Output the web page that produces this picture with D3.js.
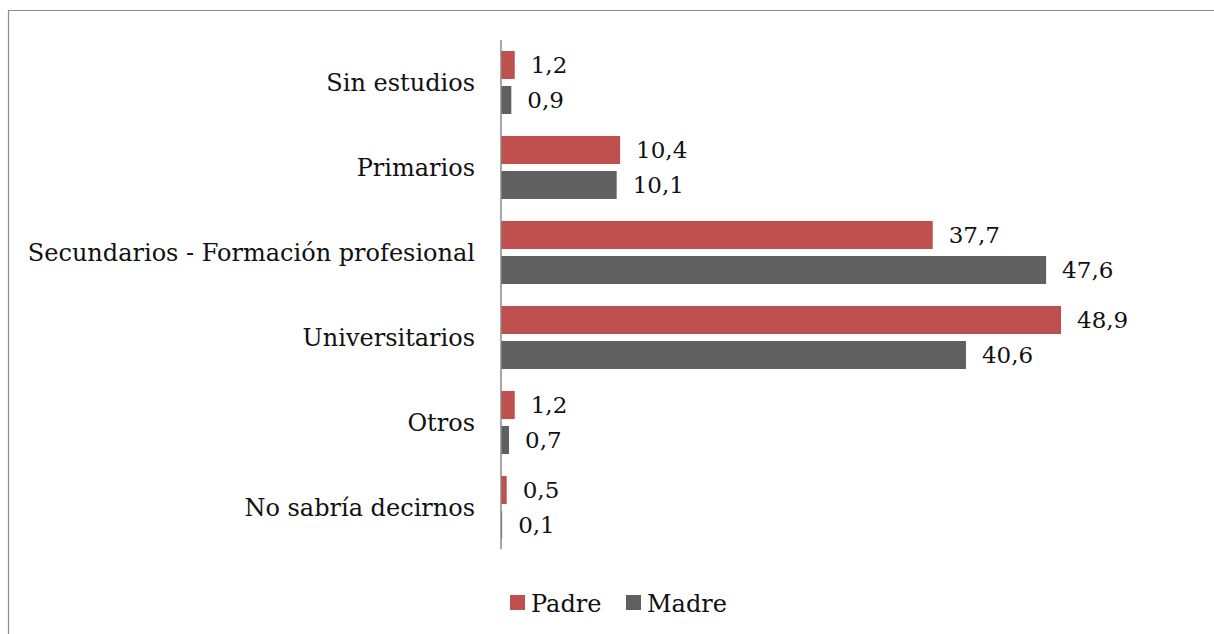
<!DOCTYPE html>
<html>
<head>
<meta charset="utf-8">
<script src="https://cdn.jsdelivr.net/npm/d3@7"></script>
<style>
	body { margin: 0; background: #fff; }
	text { font-family: "DejaVu Serif", "Liberation Serif", serif; fill: #111; }
</style>
</head>
<body>
<div id="chart"></div>
<script>
"use strict"

// data
const categories = ["Sin estudios", "Primarios", "Secundarios - Formación profesional", "Universitarios", "Otros", "No sabría decirnos"];
const seriesNames = ["Padre", "Madre"];
const padre = [1.2, 10.4, 37.7, 48.9, 1.2, 0.5];
const madre = [0.9, 10.1, 47.6, 40.6, 0.7, 0.1];
const colors = ["#C0504D", "#606060"];

const width = 1214, height = 634;
const values = [padre, madre];

let svg = d3.select("#chart").append("svg")
	.attr("width", width)
	.attr("height", height);

// frame
svg.append("path")
	.attr("d", `M8.5,${height} V10.5 H${width}`)
	.attr("fill", "none")
	.attr("stroke", "#8c8c8c")
	.attr("stroke-width", 1.2);

let xScale = d3.scaleLinear().domain([0, 60]).range([501, 501 + 60 * 11.452]);
let yScale = d3.scaleBand().domain(categories).range([40, 550]);
let sScale = d3.scaleBand().domain(seriesNames).range([0, yScale.bandwidth()])
	.paddingInner(0.2).paddingOuter(0.314);

let rows = [];
categories.forEach((c, i) => {
	seriesNames.forEach((s, j) => {
		rows.push({cat: c, series: s, value: values[j][i], color: colors[j]});
	});
});

svg.append("g").attr("class", "bars").selectAll("rect")
	.data(rows)
	.enter().append("rect")
		.attr("x", xScale(0))
		.attr("y", d => yScale(d.cat) + sScale(d.series))
		.attr("width", d => xScale(d.value) - xScale(0))
		.attr("height", sScale.bandwidth())
		.attr("fill", d => d.color);

svg.append("g").attr("class", "values").selectAll("text")
	.data(rows)
	.enter().append("text")
		.attr("x", d => xScale(d.value) + 16)
		.attr("y", d => yScale(d.cat) + sScale(d.series) + sScale.bandwidth() / 2)
		.attr("dy", "0.35em")
		.style("font-size", "23px")
		.text(d => d.value.toFixed(1).replace(".", ","));

// category axis
svg.append("line")
	.attr("x1", xScale(0)).attr("x2", xScale(0))
	.attr("y1", 40).attr("y2", 549)
	.attr("stroke", "#8a8a8a")
	.attr("stroke-width", 1.5);

svg.append("g").attr("class", "row_labels").selectAll("text")
	.data(categories)
	.enter().append("text")
		.attr("x", 475)
		.attr("y", d => yScale(d) + yScale.bandwidth() / 2)
		.attr("dy", "0.35em")
		.attr("text-anchor", "end")
		.style("font-size", "24px")
		.text(d => d);

// legend
let legendX = [510, 626];
let legend = svg.append("g").attr("class", "legend");
seriesNames.forEach((s, j) => {
	legend.append("rect")
		.attr("x", legendX[j]).attr("y", 595)
		.attr("width", 15).attr("height", 15)
		.attr("fill", colors[j]);
	legend.append("text")
		.attr("x", legendX[j] + 21).attr("y", 612)
		.style("font-size", "24px")
		.text(s);
});
</script>
</body>
</html>
